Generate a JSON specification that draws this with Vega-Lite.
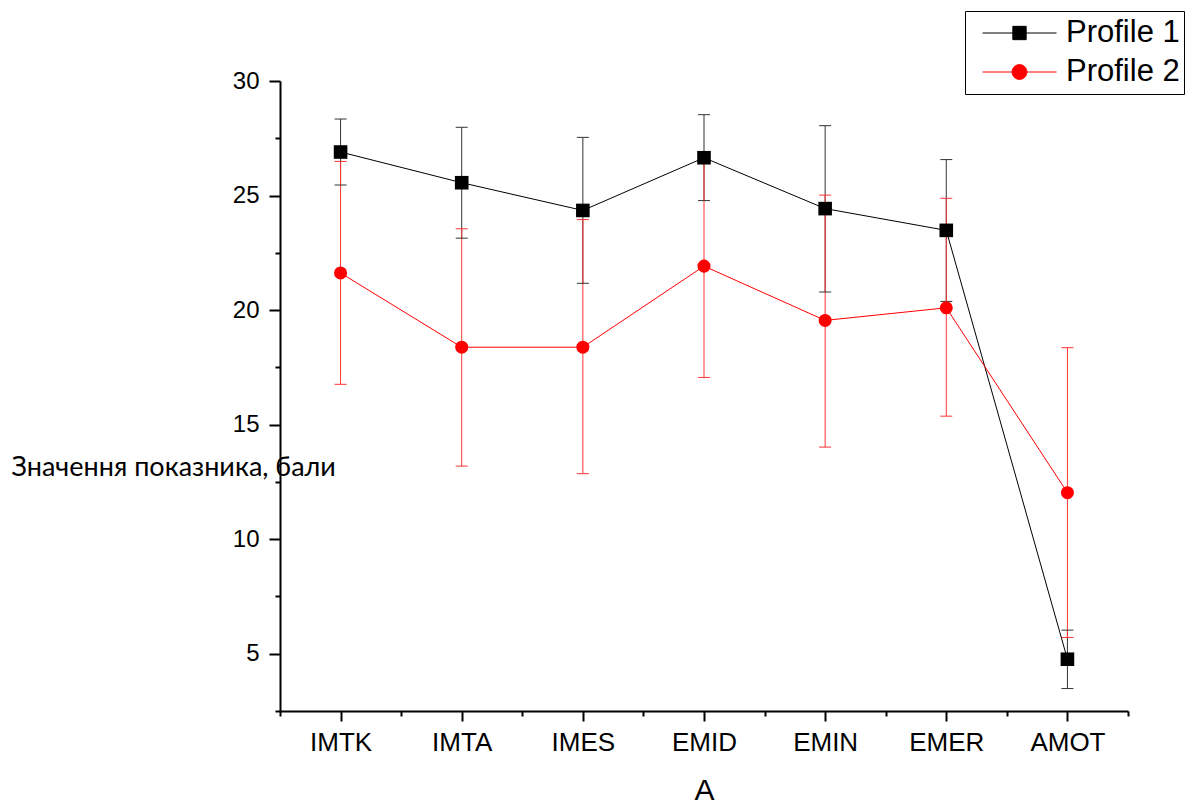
{
  "$schema": "https://vega.github.io/schema/vega-lite/v6.json",
  "width": 848,
  "height": 630,
  "autosize": {"type": "none"},
  "padding": {"left": 280, "top": 81, "right": 62, "bottom": 94},
  "background": "white",
  "config": {
    "view": {"stroke": null},
    "font": "Liberation Sans",
    "axis": {
      "grid": false,
      "domainColor": "black",
      "domainWidth": 2,
      "tickColor": "black",
      "tickWidth": 2,
      "labelColor": "black",
      "labelFont": "Liberation Sans",
      "labelFontSize": 25,
      "titleColor": "black",
      "titleFontWeight": "normal"
    },
    "legend": {
      "orient": "none",
      "legendX": 685,
      "legendY": -70,
      "title": null,
      "labelFont": "Liberation Sans",
      "labelFontSize": 31,
      "labelColor": "black",
      "strokeColor": "black",
      "padding": 4,
      "clipHeight": 36,
      "rowPadding": 3,
      "symbolOffset": 13,
      "labelOffset": 9,
      "symbolSize": 5476,
      "symbolStrokeWidth": 1
    }
  },
  "data": {
    "values": [
      {"measure": "IMTK", "idx": 1, "profile": "Profile 1", "mean": 26.9, "lower": 25.46, "upper": 28.34},
      {"measure": "IMTA", "idx": 2, "profile": "Profile 1", "mean": 25.56, "lower": 23.14, "upper": 27.98},
      {"measure": "IMES", "idx": 3, "profile": "Profile 1", "mean": 24.35, "lower": 21.17, "upper": 27.54},
      {"measure": "EMID", "idx": 4, "profile": "Profile 1", "mean": 26.65, "lower": 24.78, "upper": 28.53},
      {"measure": "EMIN", "idx": 5, "profile": "Profile 1", "mean": 24.43, "lower": 20.79, "upper": 28.05},
      {"measure": "EMER", "idx": 6, "profile": "Profile 1", "mean": 23.48, "lower": 20.38, "upper": 26.57},
      {"measure": "AMOT", "idx": 7, "profile": "Profile 1", "mean": 4.76, "lower": 3.48, "upper": 6.03},
      {"measure": "IMTK", "idx": 1, "profile": "Profile 2", "mean": 21.62, "lower": 16.76, "upper": 26.49},
      {"measure": "IMTA", "idx": 2, "profile": "Profile 2", "mean": 18.38, "lower": 13.19, "upper": 23.55},
      {"measure": "IMES", "idx": 3, "profile": "Profile 2", "mean": 18.38, "lower": 12.86, "upper": 23.95},
      {"measure": "EMID", "idx": 4, "profile": "Profile 2", "mean": 21.92, "lower": 17.06, "upper": 26.79},
      {"measure": "EMIN", "idx": 5, "profile": "Profile 2", "mean": 19.55, "lower": 14.02, "upper": 25.02},
      {"measure": "EMER", "idx": 6, "profile": "Profile 2", "mean": 20.1, "lower": 15.37, "upper": 24.88},
      {"measure": "AMOT", "idx": 7, "profile": "Profile 2", "mean": 12.03, "lower": 5.71, "upper": 18.36}
    ]
  },
  "layer": [
    {
      "mark": {"type": "rule", "strokeWidth": 1, "opacity": 1},
      "encoding": {
        "x": {
          "field": "idx",
          "type": "quantitative",
          "scale": {"domain": [0.5, 7.5], "nice": false, "zero": false},
          "axis": {
            "values": [0.5, 1, 1.5, 2, 2.5, 3, 3.5, 4, 4.5, 5, 5.5, 6, 6.5, 7, 7.5],
            "labelExpr": "datum.value % 1 === 0 ? ['','IMTK','IMTA','IMES','EMID','EMIN','EMER','AMOT'][datum.value] : ''",
            "tickSize": {"condition": {"test": "datum.value % 1 === 0", "value": 10}, "value": 5},
            "labelFontSize": 26,
            "labelPadding": 8,
            "labelFlush": false,
            "labelOverlap": false,
            "labelBound": false,
            "title": "A",
            "titleFont": "Liberation Sans",
            "titleFontSize": 30,
            "titleBaseline": "top",
            "titleY": 64
          }
        },
        "y": {
          "field": "lower",
          "type": "quantitative",
          "scale": {"domain": [2.5, 30], "nice": false, "zero": false},
          "axis": {
            "values": [2.5, 5, 7.5, 10, 12.5, 15, 17.5, 20, 22.5, 25, 27.5, 30],
            "labelExpr": "datum.value % 5 === 0 ? format(datum.value, 'd') : ''",
            "tickSize": {"condition": {"test": "datum.value % 5 === 0", "value": 11}, "value": 5},
            "labelFontSize": 24,
            "labelPadding": 10,
            "labelOverlap": false,
            "labelBound": false,
            "labelFlush": false,
            "title": "Значення показника, бали",
            "titleFont": "Lato",
            "titleFontSize": 27,
            "titleAngle": 0,
            "titleAlign": "left",
            "titleBaseline": "middle",
            "titleX": -269,
            "titleY": 386
          }
        },
        "y2": {"field": "upper"},
        "stroke": {"condition": {"test": "datum.profile === 'Profile 1'", "value": "#333333"}, "value": "#ff3333"}
      }
    },
    {
      "mark": {"type": "tick", "orient": "horizontal", "size": 12, "thickness": 1, "opacity": 1},
      "encoding": {
        "x": {"field": "idx", "type": "quantitative"},
        "y": {"field": "lower", "type": "quantitative"},
        "color": {"condition": {"test": "datum.profile === 'Profile 1'", "value": "#333333"}, "value": "#ff3333"}
      }
    },
    {
      "mark": {"type": "tick", "orient": "horizontal", "size": 12, "thickness": 1, "opacity": 1},
      "encoding": {
        "x": {"field": "idx", "type": "quantitative"},
        "y": {"field": "upper", "type": "quantitative"},
        "color": {"condition": {"test": "datum.profile === 'Profile 1'", "value": "#333333"}, "value": "#ff3333"}
      }
    },
    {
      "mark": {"type": "line", "strokeWidth": 1},
      "encoding": {
        "x": {"field": "idx", "type": "quantitative"},
        "y": {"field": "mean", "type": "quantitative"},
        "color": {
          "field": "profile",
          "type": "nominal",
          "scale": {"domain": ["Profile 1", "Profile 2"], "range": ["#000000", "#ff0000"]},
          "legend": {
            "orient": "none",
            "legendX": 685,
            "legendY": -70,
            "title": null,
            "clipHeight": 36,
            "symbolOffset": 13,
            "labelOffset": 9,
            "symbolSize": 5476,
            "encode": {
              "symbols": {
                "update": {
                  "shape": {"signal": "datum.value === 'Profile 1' ? 'M-1,0L1,0M-0.18,-0.18L0.18,-0.18L0.18,0.18L-0.18,0.18Z' : 'M-1,0L1,0M0.2,0A0.2,0.2 0 1,1 -0.2,0A0.2,0.2 0 1,1 0.2,0Z'"},
                  "fill": {"signal": "datum.value === 'Profile 1' ? '#000000' : '#ff0000'"},
                  "stroke": {"signal": "datum.value === 'Profile 1' ? '#000000' : '#ff0000'"},
                  "strokeWidth": {"value": 1},
                  "opacity": {"value": 1},
                  "size": {"value": 5476}
                }
              }
            }
          }
        }
      }
    },
    {
      "mark": {"type": "point", "filled": true, "opacity": 1},
      "encoding": {
        "x": {"field": "idx", "type": "quantitative"},
        "y": {"field": "mean", "type": "quantitative"},
        "shape": {"condition": {"test": "datum.profile === 'Profile 1'", "value": "square"}, "value": "circle"},
        "size": {"condition": {"test": "datum.profile === 'Profile 1'", "value": 185}, "value": 170},
        "color": {
          "field": "profile",
          "type": "nominal",
          "scale": {"domain": ["Profile 1", "Profile 2"], "range": ["#000000", "#ff0000"]},
          "legend": {
            "orient": "none",
            "legendX": 685,
            "legendY": -70,
            "title": null,
            "clipHeight": 36,
            "symbolOffset": 13,
            "labelOffset": 9,
            "symbolSize": 5476,
            "encode": {
              "symbols": {
                "update": {
                  "shape": {"signal": "datum.value === 'Profile 1' ? 'M-1,0L1,0M-0.18,-0.18L0.18,-0.18L0.18,0.18L-0.18,0.18Z' : 'M-1,0L1,0M0.2,0A0.2,0.2 0 1,1 -0.2,0A0.2,0.2 0 1,1 0.2,0Z'"},
                  "fill": {"signal": "datum.value === 'Profile 1' ? '#000000' : '#ff0000'"},
                  "stroke": {"signal": "datum.value === 'Profile 1' ? '#000000' : '#ff0000'"},
                  "strokeWidth": {"value": 1},
                  "opacity": {"value": 1},
                  "size": {"value": 5476}
                }
              }
            }
          }
        }
      }
    }
  ]
}
